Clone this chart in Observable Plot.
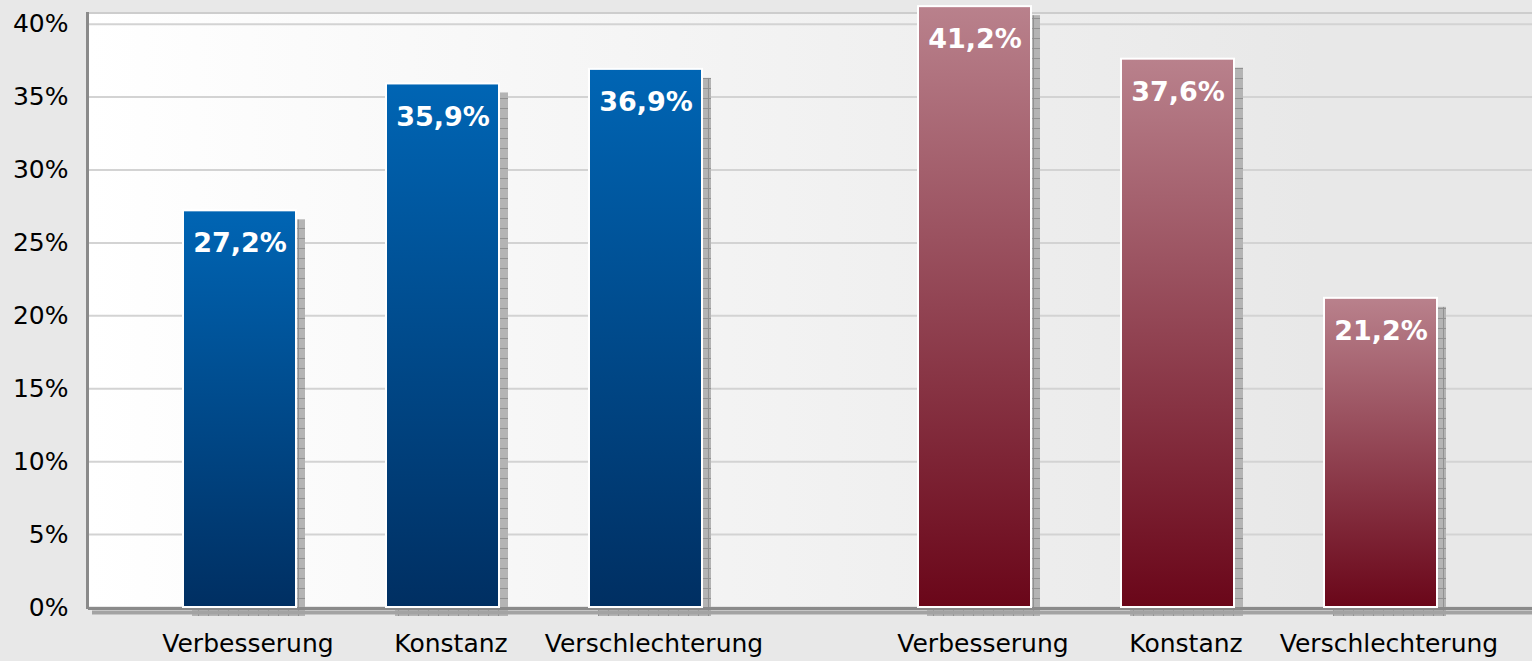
<!DOCTYPE html>
<html>
<head>
<meta charset="utf-8">
<script src="https://cdn.jsdelivr.net/npm/d3@7"></script>
<script src="https://cdn.jsdelivr.net/npm/@observablehq/plot@0.6"></script>
<style>
html, body { margin: 0; padding: 0; background: #e8e8e8; }
#chart svg { display: block; }
</style>
</head>
<body>
<div id="chart"></div>
<script>
// ---- data ----
const categories = ["Verbesserung", "Konstanz", "Verschlechterung"];
const groupKeys = ["Gruppe 1", "Gruppe 2"];
const group1Values = [27.2, 35.9, 36.9];
const group2Values = [41.2, 37.6, 21.2];
const yTicks = [0, 5, 10, 15, 20, 25, 30, 35, 40];

const rows = [];
[group1Values, group2Values].forEach((vals, gi) =>
  vals.forEach((v, ci) => rows.push({group: groupKeys[gi], category: categories[ci], value: v}))
);
// gridline rows per group (so that each facet's lines can bridge the gap between facets)
const gridRows = g => yTicks.map(t => ({group: g, tick: t}));
const zeroRows = g => [{group: g, tick: 0}];

// ---- layout ----
const W = 1532, H = 661, ML = 88, MR = 0, MT = 12, MB = 54;
const GAP = 13; // half of the gap between the two facets
const fmt = d => d.toFixed(1).replace(".", ",") + "%";
const barFill = d => d.group === groupKeys[0] ? "url(#gradBlue)" : "url(#gradRed)";

const gridStyle = {y: "tick", fx: "group", stroke: "#d3d3d3", strokeWidth: 2};
const chart = Plot.plot({
  width: W, height: H,
  marginLeft: ML, marginRight: MR, marginTop: MT, marginBottom: MB,
  style: {background: "#e8e8e8", fontFamily: "'DejaVu Sans', Verdana, sans-serif", color: "#000", overflow: "visible"},
  fx: {domain: groupKeys, paddingInner: 0.0354, paddingOuter: 0, axis: null},
  x: {domain: categories, paddingInner: 0.441, paddingOuter: 0.46},
  y: {domain: [0, 40.8]},
  color: {type: "identity"},
  marks: [
    Plot.ruleY(gridRows(groupKeys[0]), {...gridStyle, insetRight: -GAP}),
    Plot.ruleY(gridRows(groupKeys[1]), {...gridStyle, insetLeft: -GAP}),
    Plot.barY(rows, {fx: "group", x: "category", y: "value", fill: "url(#hatch)", dx: 9, dy: 9}),
    Plot.ruleY(zeroRows(groupKeys[0]), {y: "tick", fx: "group", stroke: "#a3a3a3", strokeWidth: 4, dy: 5, insetLeft: 4, insetRight: -GAP}),
    Plot.ruleY(zeroRows(groupKeys[1]), {y: "tick", fx: "group", stroke: "#a3a3a3", strokeWidth: 4, dy: 5, insetLeft: -GAP}),
    Plot.ruleY(zeroRows(groupKeys[0]), {y: "tick", fx: "group", stroke: "#8a8a8a", strokeWidth: 3, dy: 1, insetRight: -GAP}),
    Plot.ruleY(zeroRows(groupKeys[1]), {y: "tick", fx: "group", stroke: "#8a8a8a", strokeWidth: 3, dy: 1, insetLeft: -GAP}),
    Plot.barY(rows, {fx: "group", x: "category", y: "value", fill: barFill, stroke: "white", strokeWidth: 2}),
    Plot.text(rows, {fx: "group", x: "category", y: "value", text: d => fmt(d.value), dy: 33,
      fill: "white", fontWeight: "bold", fontSize: 27}),
    Plot.axisY(yTicks, {anchor: "left", tickSize: 0, tickPadding: 20, fontSize: 25, tickFormat: d => d + "%", label: null}),
    Plot.axisX({anchor: "bottom", tickSize: 0, tickPadding: 27, fontSize: 25, dx: 8, label: null})
  ]
});

// ---- defs: gradients & shadow pattern ----
const svg = d3.select(chart);
const defs = svg.insert("defs", ":first-child");
function vgrad(id, top, bottom) {
  const g = defs.append("linearGradient").attr("id", id).attr("x1", 0).attr("y1", 0).attr("x2", 0).attr("y2", 1);
  g.append("stop").attr("offset", 0).attr("stop-color", top);
  g.append("stop").attr("offset", 1).attr("stop-color", bottom);
}
vgrad("gradBlue", "#0065b4", "#002f62");
vgrad("gradRed", "#b9818c", "#6a0619");
const bg = defs.append("linearGradient").attr("id", "gradBg").attr("x1", 0).attr("y1", 0).attr("x2", 1).attr("y2", 0);
bg.append("stop").attr("offset", 0).attr("stop-color", "#ffffff");
bg.append("stop").attr("offset", 0.85).attr("stop-color", "#e8e8e8");
bg.append("stop").attr("offset", 1).attr("stop-color", "#e8e8e8");
const pat = defs.append("pattern").attr("id", "hatch").attr("patternUnits", "userSpaceOnUse").attr("width", 10).attr("height", 10);
pat.append("rect").attr("width", 10).attr("height", 10).attr("fill", "#b4b4b4");
pat.append("path").attr("d", "M0 9.5H10M9.5 0V10").attr("stroke", "#919191").attr("stroke-width", 1);

// plot-area background, top border and left axis line
const back = svg.insert("g", "g");
back.append("rect").attr("x", ML).attr("y", MT).attr("width", W - ML - MR).attr("height", H - MT - MB).attr("fill", "url(#gradBg)");
back.append("line").attr("x1", ML).attr("x2", W - MR).attr("y1", MT + 1).attr("y2", MT + 1).attr("stroke", "#cdcdcd").attr("stroke-width", 2);
svg.append("line").attr("x1", ML - 0.5).attr("x2", ML - 0.5).attr("y1", MT).attr("y2", H - MB + 2).attr("stroke", "#8a8a8a").attr("stroke-width", 3);

document.getElementById("chart").appendChild(chart);
</script>
</body>
</html>
